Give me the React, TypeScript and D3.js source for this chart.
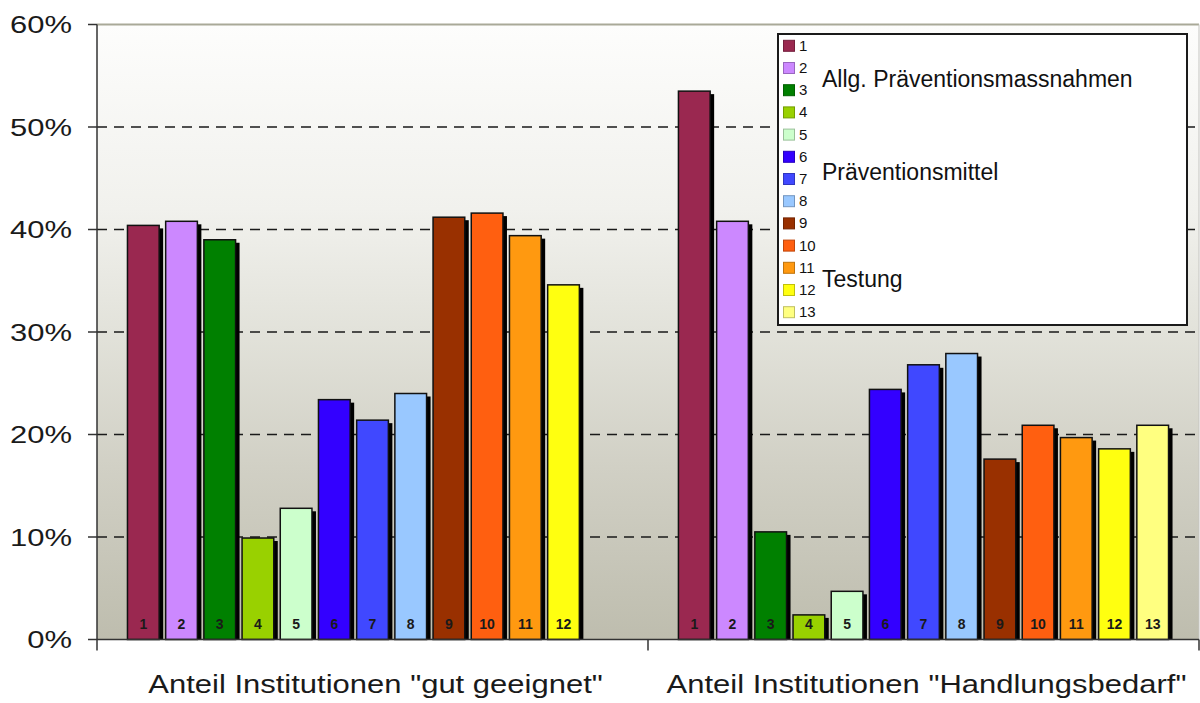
import React from "react";
import * as d3 from "d3";

const categories = ['Anteil Institutionen "gut geeignet"', 'Anteil Institutionen "Handlungsbedarf"'];
const seriesNames = ["1", "2", "3", "4", "5", "6", "7", "8", "9", "10", "11", "12", "13"];
const gutGeeignet: (number | null)[] = [0.404, 0.408, 0.39, 0.099, 0.128, 0.234, 0.214, 0.24, 0.412, 0.416, 0.394, 0.346, null];
const handlungsbedarf: (number | null)[] = [0.535, 0.408, 0.105, 0.024, 0.047, 0.244, 0.268, 0.279, 0.176, 0.209, 0.197, 0.186, 0.209];
const seriesColors = [
  "#9a2850", "#cc88ff", "#008000", "#99d100", "#ccffcc", "#3300ff", "#4048ff",
  "#99c8ff", "#993000", "#ff5f10", "#ff9910", "#ffff10", "#ffff80",
];
const yTicks = [0, 0.1, 0.2, 0.3, 0.4, 0.5, 0.6];
const legendGroupLabels = ["Allg. Präventionsmassnahmen", "Präventionsmittel", "Testung"];
const legendGroupRows = [1.5, 5.7, 10.5];

const values = [gutGeeignet, handlungsbedarf];

const W = 1200, H = 703;
const left = 97, right = 1199, top = 24.5, bottom = 639.5;
const FONT = "'Liberation Sans', Arial, Helvetica, sans-serif";

export default function App() {
  const y = d3.scaleLinear().domain([0, 0.6]).range([bottom, top]);
  const x0 = d3.scaleBand<string>().domain(categories).range([left, right]).paddingInner(0.0987).paddingOuter(0.0494);
  const x1 = d3.scaleBand<string>().domain(seriesNames).range([0, x0.bandwidth()]).padding(0);
  const barW = x1.bandwidth() * 0.83;
  const barOff = (x1.bandwidth() - barW) / 2;
  const pct = d3.format(".0%");

  const legX = 778, legY = 34, legW = 409, legH = 291;
  const rowY = (i: number) => 45.8 + i * 22.2;

  return (
    <svg width={W} height={H} style={{ position: "absolute", left: 0, top: 0, display: "block", background: "#fff" }} fontFamily={FONT}>
      <defs>
        <linearGradient id="bg" x1="0" y1="0" x2="0" y2="1">
          <stop offset="0" stopColor="#fdfdfc" />
          <stop offset="0.3" stopColor="#f1f1ed" />
          <stop offset="0.5" stopColor="#e2e2da" />
          <stop offset="0.72" stopColor="#d1d0c5" />
          <stop offset="1" stopColor="#bebdae" />
        </linearGradient>
      </defs>
      <rect x={left} y={top} width={right - left} height={bottom - top} fill="url(#bg)" />
      <line x1={left} x2={right} y1={top} y2={top} stroke="#a9a998" strokeWidth={2} />
      <line x1={right} x2={right} y1={top} y2={bottom} stroke="#c4c4c0" strokeWidth={1} />
      {yTicks.filter(t => t > 0 && t < 0.6).map(t => (
        <line key={t} x1={left} x2={right} y1={y(t)} y2={y(t)} stroke="#1a1a1a" strokeWidth={1.6} strokeDasharray="10 7" />
      ))}
      {categories.map((c, ci) => (
        <g key={c} transform={`translate(${x0(c)},0)`}>
          {seriesNames.map((s, si) => {
            const v = values[ci][si];
            if (v == null) return null;
            const bx = (x1(s) as number) + barOff;
            const by = y(v);
            return (
              <g key={s}>
                <rect x={bx + 4} y={by + 3} width={barW} height={Math.max(0, bottom - by - 3)} fill="#000" />
                <rect x={bx} y={by} width={barW} height={bottom - by} fill={seriesColors[si]} stroke="#111" strokeWidth={1.5} />
                <text x={bx + barW / 2} y={628.5} textAnchor="middle" fontSize={14} fontWeight="bold" fill="#1a1a1a">{s}</text>
              </g>
            );
          })}
        </g>
      ))}
      {/* axes */}
      <line x1={left} x2={left} y1={top} y2={bottom} stroke="#333" strokeWidth={1.5} />
      <line x1={left} x2={right} y1={bottom} y2={bottom} stroke="#333" strokeWidth={1.5} />
      {yTicks.map(t => (
        <g key={t}>
          <line x1={left - 9} x2={left} y1={y(t)} y2={y(t)} stroke="#333" strokeWidth={1.5} />
          <g transform={`translate(72,${y(t) + 8.6}) scale(1.29,1)`}>
            <text x={0} y={0} textAnchor="end" fontSize={24} fill="#1a1a1a">{pct(t)}</text>
          </g>
        </g>
      ))}
      {[left, left + (right - left) / 2, right].map(tx => (
        <line key={tx} x1={tx} x2={tx} y1={bottom} y2={bottom + 11} stroke="#333" strokeWidth={1.5} />
      ))}
      {categories.map(c => (
        <g key={c} transform={`translate(${(x0(c) as number) + x0.bandwidth() / 2 + 3},693) scale(1.24,1)`}>
          <text x={0} y={0} textAnchor="middle" fontSize={25} fill="#1a1a1a">{c}</text>
        </g>
      ))}
      {/* legend */}
      <rect x={legX} y={legY} width={legW} height={legH} fill="#fff" stroke="#1a1a1a" strokeWidth={2} />
      {seriesNames.map((s, i) => (
        <g key={s}>
          <rect x={783.5} y={rowY(i) - 5.5} width={11} height={11} fill={seriesColors[i]} stroke={d3.color(seriesColors[i])!.darker(0.8).toString()} strokeWidth={1} />
          <text x={799} y={rowY(i) + 5} fontSize={15} fill="#111">{s}</text>
        </g>
      ))}
      {legendGroupLabels.map((g, i) => (
        <text key={g} x={822} y={rowY(legendGroupRows[i]) + 8} fontSize={23} fill="#111">{g}</text>
      ))}
    </svg>
  );
}
